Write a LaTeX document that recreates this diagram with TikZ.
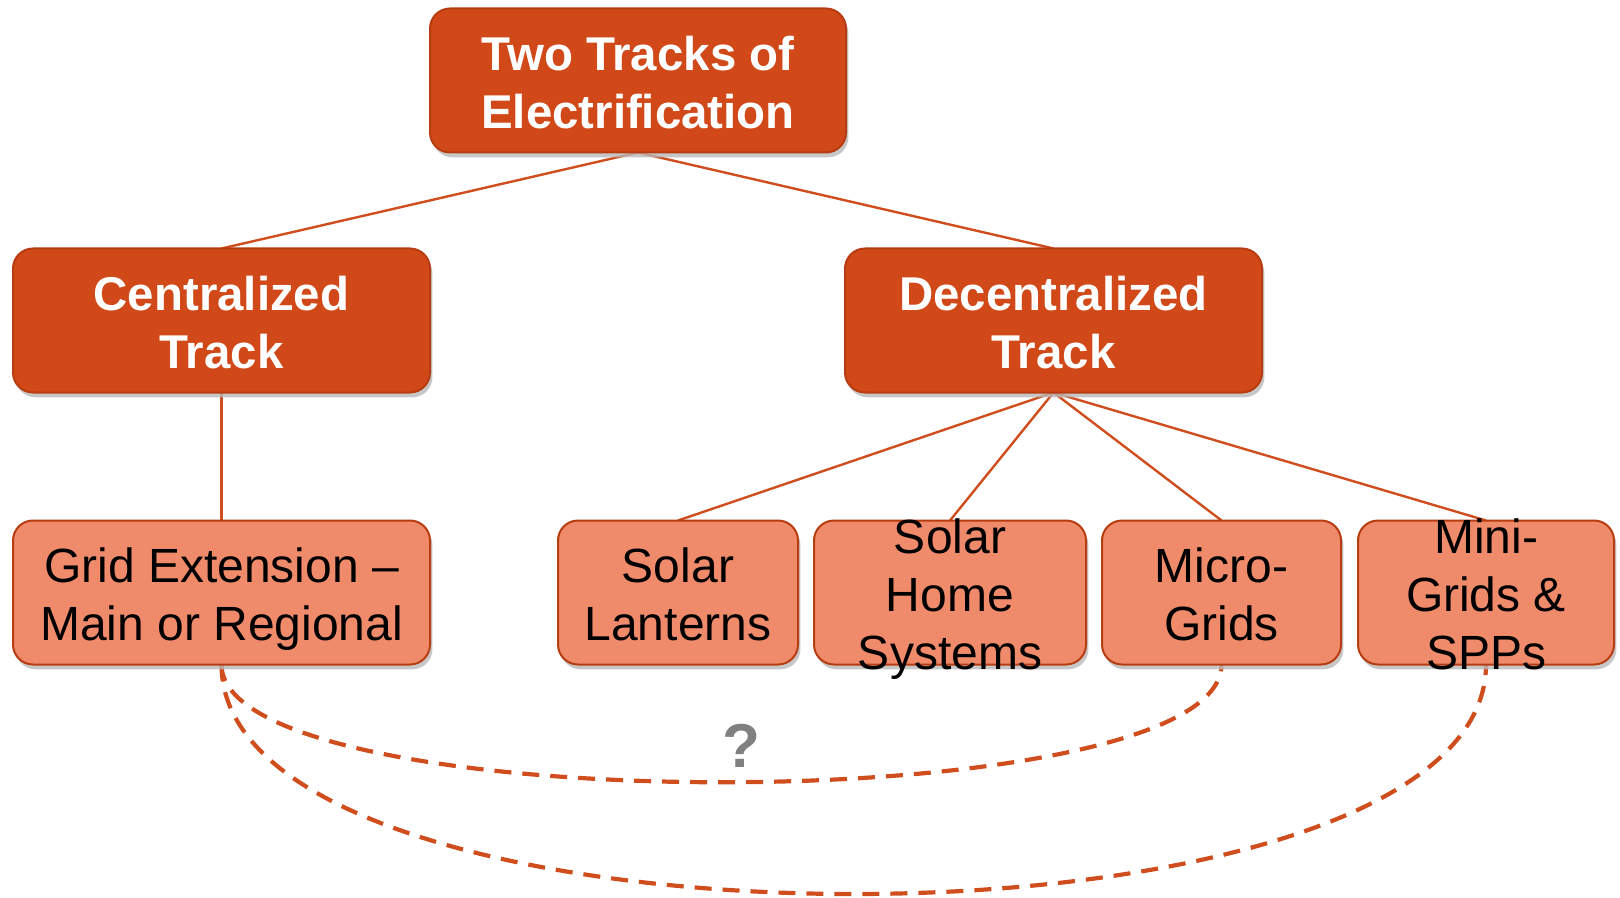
\documentclass[tikz,border=0pt]{standalone}
\usepackage{fontspec}
\setmainfont{Liberation Sans}
\usetikzlibrary{shadows,backgrounds}
\definecolor{trackdark}{RGB}{209,73,24}
\definecolor{tracklight}{RGB}{239,139,107}
\definecolor{trackedge}{RGB}{184,60,18}
\definecolor{linkcol}{RGB}{208,78,30}
\definecolor{shadowgray}{RGB}{185,185,185}
\definecolor{qgray}{RGB}{128,128,128}
\begin{document}
\begin{tikzpicture}[x=0.5pt,y=-0.5pt,
  box/.style={rectangle, rounded corners=10pt, draw=trackedge, line width=1pt,
    inner sep=0pt, outer sep=0pt, minimum height=72pt,
    drop shadow={shadow xshift=1.2pt, shadow yshift=-2.4pt, fill=shadowgray, opacity=0.8}},
  darkbox/.style={box, fill=trackdark},
  lightbox/.style={box, fill=tracklight},
  headtext/.style={align=center, text=white, inner sep=0pt, yshift=-3.6pt,
    font=\fontsize{23.7}{29}\selectfont\bfseries},
  itemtext/.style={align=center, text=black, inner sep=0pt, yshift=-3.8pt,
    font=\fontsize{24}{29}\selectfont},
  link/.style={draw=linkcol, line width=1.2pt},
  maybe/.style={draw=linkcol, line width=2.1pt, dash pattern=on 8.5pt off 5.5pt}
]
\useasboundingbox (0,0) rectangle (1620,898);

% boxes
\node[darkbox, minimum width=208pt] (top) at (638,80.5) {};
\node[darkbox, minimum width=208.5pt] (cent) at (221.5,320.5) {};
\node[darkbox, minimum width=208.5pt] (dec) at (1053.5,320.5) {};
\node[lightbox, minimum width=208.5pt] (grid) at (221.5,592.5) {};
\node[lightbox, minimum width=120pt] (lant) at (678,592.5) {};
\node[lightbox, minimum width=136pt] (shs) at (950,592.5) {};
\node[lightbox, minimum width=119.5pt] (micro) at (1221.5,592.5) {};
\node[lightbox, minimum width=128pt] (mini) at (1486,592.5) {};

% texts (struts keep every line the same height and depth)
\node[headtext] (topT) at (top.center) {\strut Two Tracks of\\\strut Electrification};
\node[headtext] (centT) at (cent.center) {\strut Centralized\\\strut Track};
\node[headtext] (decT) at (dec.center) {\strut Decentralized\\\strut Track};
\node[itemtext] (gridT) at (grid.center) {\strut Grid Extension –\\\strut Main or Regional};
\node[itemtext] (lantT) at (lant.center) {\strut Solar\\\strut Lanterns};
\node[itemtext] (shsT) at (shs.center) {\strut Solar\\\strut Home\\\strut Systems};
\node[itemtext] (microT) at (micro.center) {\strut Micro-\\\strut Grids};
\node[itemtext] (miniT) at (mini.center) {\strut Mini-\\\strut Grids \&\\\strut SPPs};
\node[text=qgray, inner sep=0pt, font=\fontsize{31}{31}\selectfont\bfseries] (q) at (741,746) {?};

% connectors behind the boxes
\begin{scope}[on background layer]
  \draw[link] (top.south) -- (cent.north);
  \draw[link] (top.south) -- (dec.north);
  \draw[link] (cent.south) -- (grid.north);
  \draw[link] (dec.south) -- (lant.north);
  \draw[link] (dec.south) -- (shs.north);
  \draw[link] (dec.south) -- (micro.north);
  \draw[link] (dec.south) -- (mini.north);
  \draw[maybe] (grid.south) .. controls +(0,157) and +(0,157) .. (micro.south);
  \draw[maybe] (grid.south) .. controls +(0,306) and +(0,306) .. (mini.south);
\end{scope}
\end{tikzpicture}
\end{document}
